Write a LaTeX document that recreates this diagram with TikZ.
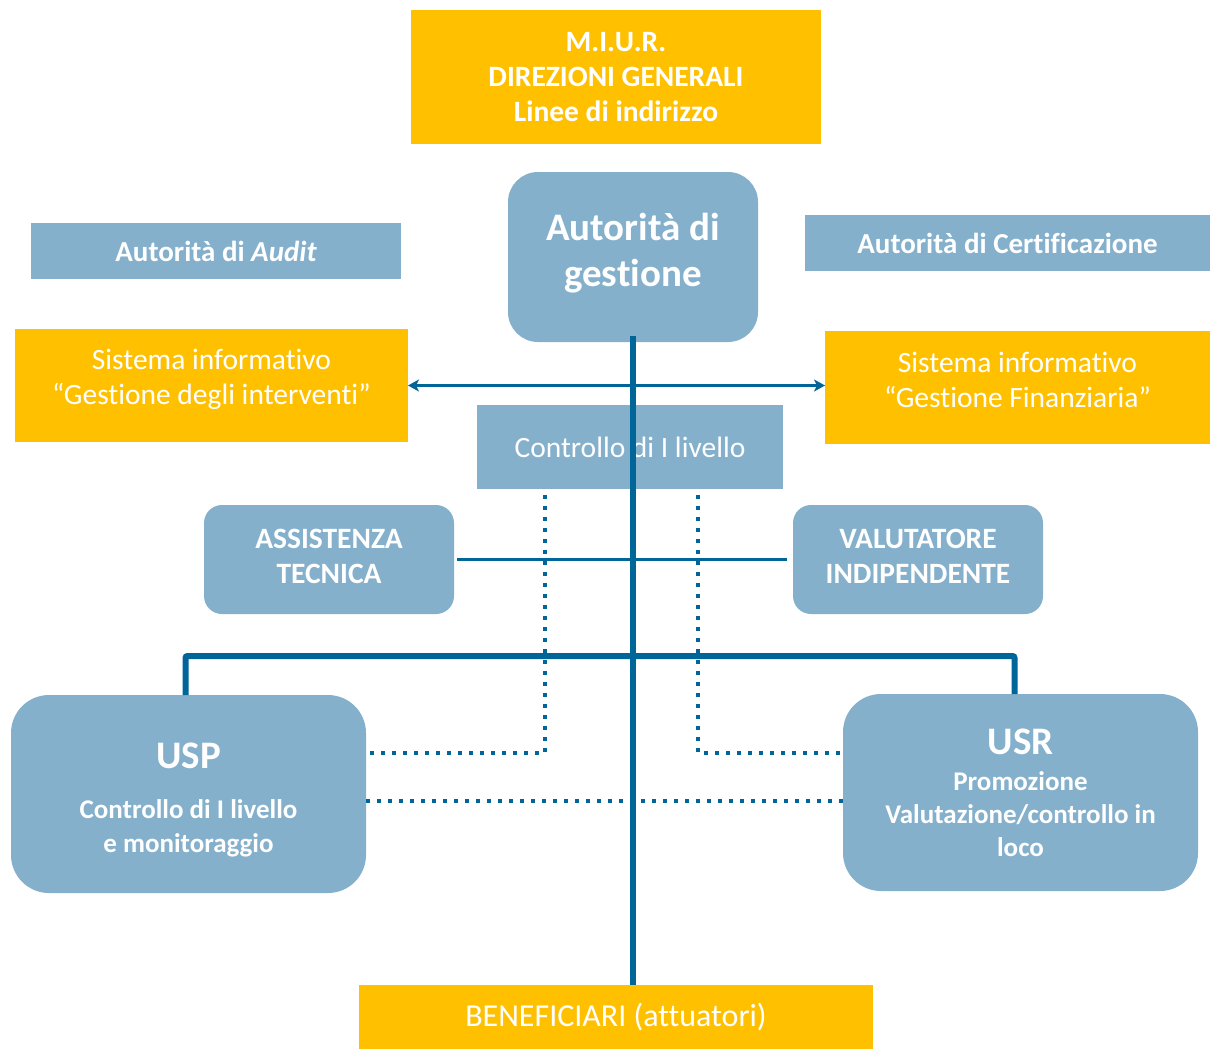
\documentclass[tikz,border=0pt]{standalone}
\usepackage{fontspec}
\setmainfont{Carlito}[Ligatures=NoCommon]
\usetikzlibrary{arrows.meta,calc}
\definecolor{gold}{HTML}{FFC000}
\definecolor{steel}{HTML}{85B0CC}
\definecolor{navy}{HTML}{006699}
\tikzset{
  base/.style={inner sep=0pt, outer sep=0pt, text=white, align=center},
  goldbox/.style={base, fill=gold},
  flatbox/.style={base, fill=steel},
  roundbox/.style={base, fill=steel, rounded corners=#1},
  spine/.style={draw=navy, line width=6.5pt},
  thinline/.style={draw=navy, line width=3pt},
  dotline/.style={draw=navy, line width=4pt, dash pattern=on 4pt off 7pt},
}
\newcommand{\fs}[2]{\fontsize{#1}{#2}\selectfont}
\begin{document}
\begin{tikzpicture}[x=1pt,y=-1pt]
\useasboundingbox (0,0) rectangle (1210,1050);

% top: ministry
\node[goldbox, minimum width=410, minimum height=134, font=\fs{29.5}{35}\bfseries] (miur) at (616,77)
  {M.I.U.R.\\DIREZIONI GENERALI\\Linee di indirizzo};

% managing authority
\node[roundbox=30pt, minimum width=250, minimum height=170] (ag) at (633,257) {};
\node[base, font=\fs{39}{46}\bfseries] (ag-text) at ([yshift=3.5pt]ag.center)
  {Autorità di\\gestione};

% audit / certification
\node[flatbox, minimum width=370, minimum height=56, font=\fs{29}{34}\bfseries] (audit) at (216,251)
  {Autorità di \itshape Audit};
\node[flatbox, minimum width=405, minimum height=56, font=\fs{29}{34}\bfseries] (cert) at (1007.5,243)
  {Autorità di Certificazione};

% information systems
\node[goldbox, minimum width=393, minimum height=113] (sil) at (211.5,385.5) {};
\node[base, font=\fs{29.5}{35}] (sil-text) at ([yshift=6pt]sil.center)
  {Sistema informativo\\“Gestione degli interventi”};
\node[goldbox, minimum width=385, minimum height=113] (sir) at (1017.5,387.5) {};
\node[base, font=\fs{29.5}{35}] (sir-text) at ([yshift=8pt]sir.center)
  {Sistema informativo\\“Gestione Finanziaria”};

% first-level control
\node[flatbox, minimum width=306, minimum height=84, font=\fs{29.5}{35}] (ctrl) at (630,447)
  {Controllo di I livello};

% technical assistance / evaluator
\node[roundbox=18pt, minimum width=250, minimum height=109] (at) at (329,559.5) {};
\node[base, font=\fs{29.5}{35}\bfseries] (at-text) at ([yshift=3pt]at.center)
  {ASSISTENZA\\TECNICA};
\node[roundbox=18pt, minimum width=250, minimum height=109] (vi) at (918,559.5) {};
\node[base, font=\fs{29.5}{35}\bfseries] (vi-text) at ([yshift=3pt]vi.center)
  {VALUTATORE\\INDIPENDENTE};

% provincial / regional offices
\node[roundbox=38pt, minimum width=355, minimum height=198] (usp) at (188.5,794) {};
\node[base, font=\fs{27}{34}\bfseries] (usp-text) at ([yshift=-6pt]usp.center)
  {{\fs{39}{40}USP}\\[16pt]Controllo di I livello\\e monitoraggio};
\node[roundbox=38pt, minimum width=355, minimum height=197, font=\fs{27}{33}\bfseries] (usr) at (1020.5,792.5)
  {{\fs{39}{40}USR}\\[3pt]Promozione\\Valutazione/controllo in\\loco};

% beneficiaries
\node[goldbox, minimum width=514, minimum height=64, font=\fs{32}{38}] (ben) at (616,1017)
  {BENEFICIARI (attuatori)};

% connectors
\coordinate (bar) at (633,656);
\coordinate (dl) at ($(ctrl.south west)+(68,6)$);
\coordinate (dr) at ($(ctrl.south west)+(221,6)$);
\coordinate (uspa) at ($(usp.east)+(0,-41)$);
\coordinate (usra) at ($(usr.west)+(0,-39.5)$);
\coordinate (uspb) at ($(usp.east)+(0,7)$);
\draw[thinline, {Stealth[length=11pt,width=12pt,inset=3pt]}-{Stealth[length=11pt,width=12pt,inset=3pt]}]
  (sil.east) -- (sil.east -| sir.west);
\draw[thinline, shorten <=3pt, shorten >=6pt] (at.east) -- (vi.west);
\draw[dotline] (dl) |- (uspa);
\draw[dotline] (dr) |- (usra);
\draw[dotline] (uspb) -- (uspb -| usr.west);
\draw[draw=navy, line width=6pt, rounded corners=2pt] ([xshift=-3pt]usp.north) |- (bar) -| ([xshift=-6pt]usr.north);
\draw[spine] ([yshift=6pt]ag.south) -- (ag.south |- ben.north);
\end{tikzpicture}
\end{document}
